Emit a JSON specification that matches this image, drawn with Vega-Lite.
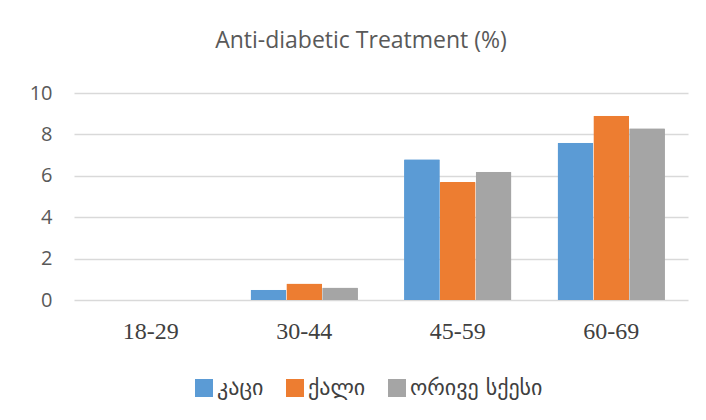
{
  "$schema": "https://vega.github.io/schema/vega-lite/v6.json",
  "autosize": "none",
  "width": 614,
  "height": 207,
  "padding": {"left": 74, "top": 93, "right": 18, "bottom": 120},
  "background": "white",
  "title": {
    "text": "Anti-diabetic Treatment (%)",
    "font": "Open Sans",
    "fontSize": 23,
    "fontWeight": "normal",
    "color": "#595959",
    "anchor": "middle",
    "dx": -20,
    "offset": 30
  },
  "data": {
    "values": [
      {"age": "18-29", "sex": "კაცი", "value": 0},
      {"age": "18-29", "sex": "ქალი", "value": 0},
      {"age": "18-29", "sex": "ორივე სქესი", "value": 0},
      {"age": "30-44", "sex": "კაცი", "value": 0.5},
      {"age": "30-44", "sex": "ქალი", "value": 0.8},
      {"age": "30-44", "sex": "ორივე სქესი", "value": 0.6},
      {"age": "45-59", "sex": "კაცი", "value": 6.8},
      {"age": "45-59", "sex": "ქალი", "value": 5.7},
      {"age": "45-59", "sex": "ორივე სქესი", "value": 6.2},
      {"age": "60-69", "sex": "კაცი", "value": 7.6},
      {"age": "60-69", "sex": "ქალი", "value": 8.9},
      {"age": "60-69", "sex": "ორივე სქესი", "value": 8.3}
    ]
  },
  "mark": {"type": "bar", "cornerRadiusEnd": 1},
  "encoding": {
    "x": {
      "field": "age",
      "type": "nominal",
      "sort": null,
      "scale": {"paddingInner": 0.3, "paddingOuter": 0.15},
      "axis": {
        "title": null,
        "labelAngle": 0,
        "labelFont": "Liberation Serif",
        "labelFontSize": 24,
        "labelColor": "#404040",
        "labelPadding": 19,
        "ticks": false,
        "domain": false
      }
    },
    "xOffset": {
      "field": "sex",
      "type": "nominal",
      "sort": ["კაცი", "ქალი", "ორივე სქესი"],
      "scale": {"paddingInner": 0}
    },
    "y": {
      "field": "value",
      "type": "quantitative",
      "scale": {"domain": [0, 10]},
      "axis": {
        "title": null,
        "values": [0, 2, 4, 6, 8, 10],
        "labelFont": "Open Sans",
        "labelFontSize": 20,
        "labelColor": "#595959",
        "labelPadding": 22,
        "ticks": false,
        "domain": false,
        "gridColor": "#D9D9D9",
        "gridWidth": 1.5
      }
    },
    "color": {
      "field": "sex",
      "type": "nominal",
      "sort": ["კაცი", "ქალი", "ორივე სქესი"],
      "scale": {"range": ["#5B9BD5", "#ED7D31", "#A5A5A5"]},
      "legend": {
        "title": null,
        "orient": "none",
        "direction": "horizontal",
        "legendX": 119,
        "legendY": 284,
        "symbolType": "square",
        "symbolSize": 324,
        "symbolStrokeWidth": 0,
        "labelFont": "DejaVu Sans",
        "labelFontSize": 22,
        "labelColor": "#404040",
        "labelOffset": 2,
        "columnPadding": 20
      }
    }
  },
  "config": {"view": {"stroke": null}}
}
